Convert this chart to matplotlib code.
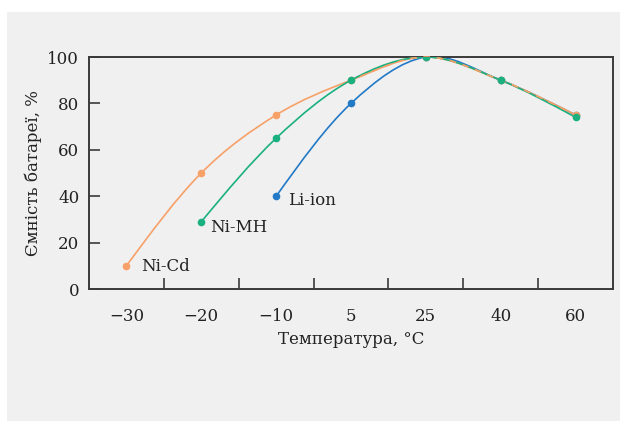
import numpy as np
import matplotlib
matplotlib.use("Agg")
import matplotlib.pyplot as plt
from matplotlib.path import Path
from matplotlib.patches import PathPatch, Rectangle

# ---- data ----
temps = ["\u221230", "\u221220", "\u221210", "5", "25", "40", "60"]
nicd = [10, 50, 75, 90, 100, 90, 75]
nimh = [None, 29, 65, 90, 100, 90, 74]
liion = [None, None, 40, 80, 100, 90, 75]
series_names = ["Ni-Cd", "Ni-MH", "Li-ion"]
yticks = [0, 20, 40, 60, 80, 100]

c_orange = "#F7A068"
c_green = "#1BB07F"
c_blue = "#2279C6"
spine_c = "#3a3a3a"
txt_c = "#222222"
FS = 12

plt.rcParams['font.family'] = ['DejaVu Serif']

fig = plt.figure(figsize=(6.23, 4.21), dpi=100)
fig.patch.set_facecolor("white")
W, H = 623, 421
fig.patches.append(Rectangle((7 / W, 0), (620 - 7) / W, (421 - 12) / H,
                             transform=fig.transFigure, facecolor="#f0f0f0",
                             edgecolor="none", zorder=-10))

ax = fig.add_axes([89 / W, 1 - 289 / H, (613 - 89) / W, (289 - 57) / H])
ax.set_facecolor("#f0f0f0")
ax.set_xlim(-0.5, len(temps) - 0.5)
ax.set_ylim(0, 100)


def xy(vals):
    pts = [(i, v) for i, v in enumerate(vals) if v is not None]
    return np.array(pts, dtype=float)


def smooth_path(pts):
    n = len(pts)
    refl_f = 2 * pts[0] - pts[1]
    refl_l = 2 * pts[-1] - pts[-2]
    quad_f = 3 * pts[0] - 3 * pts[1] + pts[2]
    quad_l = 3 * pts[-1] - 3 * pts[-2] + pts[-3]
    first = 0.5 * (refl_f + quad_f)
    last = 0.5 * (refl_l + quad_l)
    ext = np.vstack([first, pts, last])
    verts = [tuple(pts[0])]
    codes = [Path.MOVETO]
    for i in range(1, n):
        p0, p1, p2, p3 = ext[i - 1], ext[i], ext[i + 1], ext[i + 2]
        c1 = p1 + (p2 - p0) / 6.0
        c2 = p2 - (p3 - p1) / 6.0
        verts += [tuple(c1), tuple(c2), tuple(p2)]
        codes += [Path.CURVE4] * 3
    return Path(verts, codes)


def draw_curve(vals, color, z, ls="-", clip_from=None):
    pts = xy(vals)
    patch = PathPatch(smooth_path(pts), facecolor="none", edgecolor=color,
                      lw=1.2, ls=ls, zorder=z, transform=ax.transData)
    ax.add_patch(patch)
    if clip_from is not None:
        r = Rectangle((clip_from, -10), 10, 200, transform=ax.transData)
        patch.set_clip_path(r)
    return patch


draw_curve(liion, c_blue, 2)
draw_curve(nicd, c_orange, 3)
draw_curve(nimh, c_green, 4)
draw_curve(nicd, c_orange, 5, ls=(0, (4, 4)), clip_from=3)

for vals, c, z in [(liion, c_blue, 6), (nicd, c_orange, 7), (nimh, c_green, 8)]:
    p = xy(vals)
    ax.plot(p[:, 0], p[:, 1], "o", color=c, ms=5.5, mec="none", zorder=z)

# labels
ax.text(0.2, 9.5, series_names[0], fontsize=FS, color=txt_c, va="center", ha="left")
ax.text(1.12, 26.5, series_names[1], fontsize=FS, color=txt_c, va="center", ha="left")
ax.text(2.16, 38, series_names[2], fontsize=FS, color=txt_c, va="center", ha="left")

# axes style
for s in ax.spines.values():
    s.set_color(spine_c)
    s.set_linewidth(1.4)

ax.set_xticks(range(len(temps)))
ax.set_xticklabels(temps)
ax.set_xticks(np.arange(0.5, len(temps) - 1, 1.0), minor=True)
ax.tick_params(axis="x", which="major", length=0, pad=14, labelsize=FS, labelcolor=txt_c)
ax.tick_params(axis="x", which="minor", direction="in", length=8, width=1.2, color=spine_c)
ax.set_yticks(yticks)
ax.tick_params(axis="y", direction="in", length=8, width=1.2, color=spine_c,
               labelsize=FS, labelcolor=txt_c, pad=7)

ax.set_xlabel("Температура, °C", fontsize=FS, color=txt_c, va="center")
ax.xaxis.set_label_coords(0.5, (289 - 340) / 232)
ax.set_ylabel("Ємність батареї, %", fontsize=FS, color=txt_c, va="center")
ax.yaxis.set_label_coords((33 - 89) / 524, 0.5)

fig.savefig("out.png", dpi=100)
